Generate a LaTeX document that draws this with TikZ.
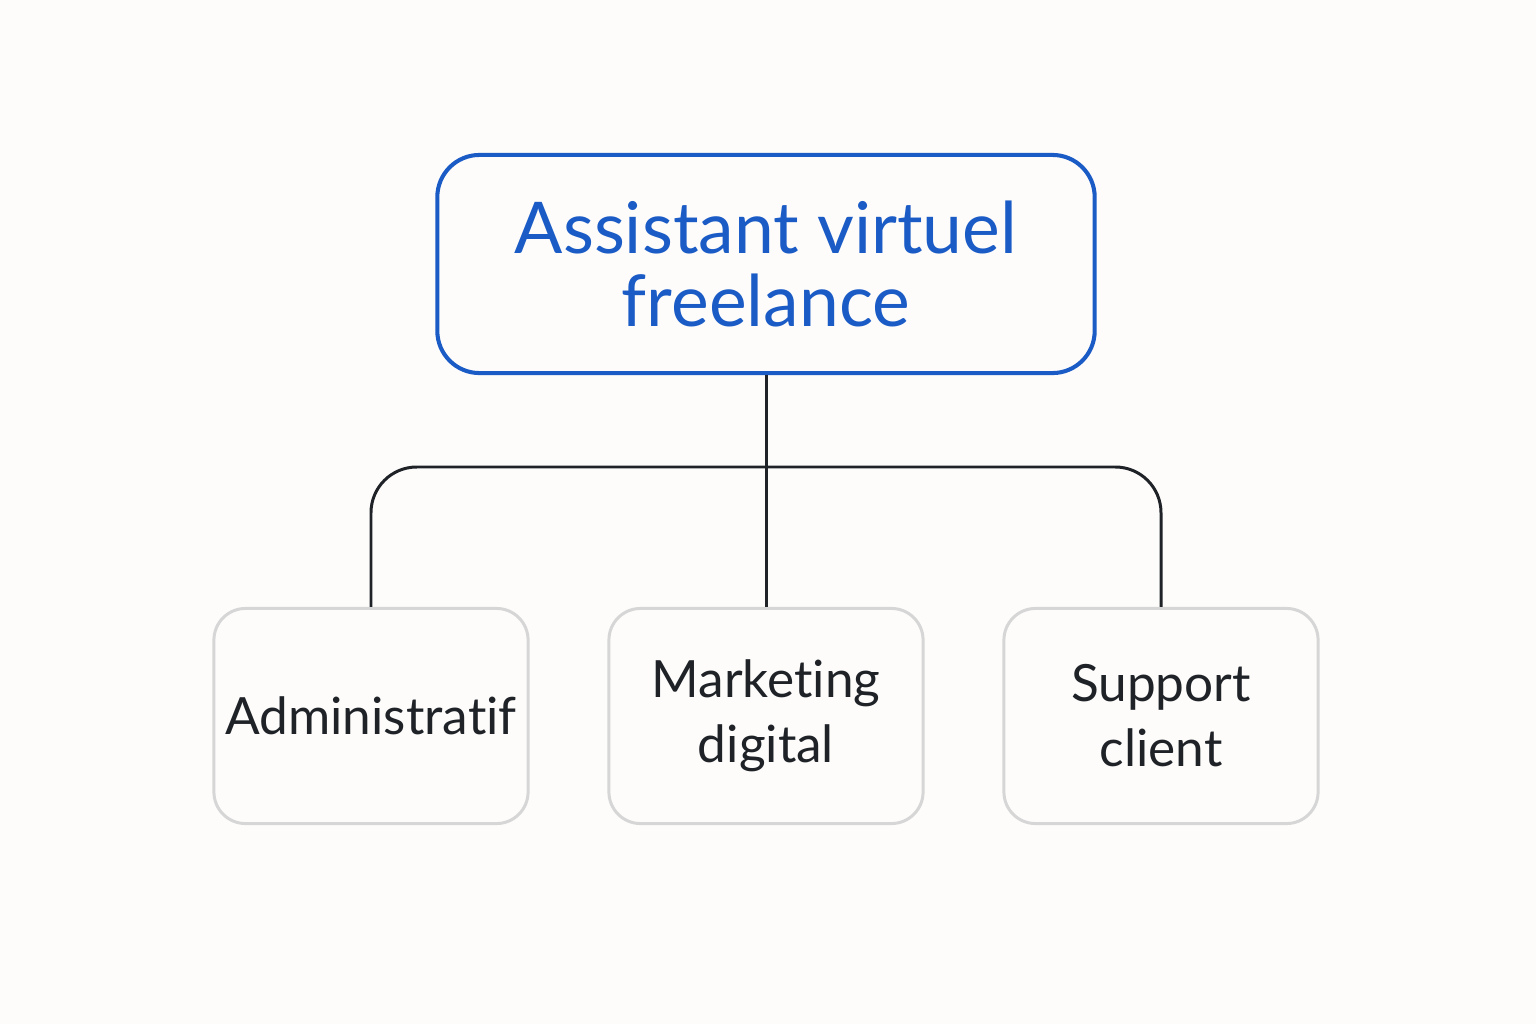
\documentclass[tikz,border=0pt]{standalone}
\usepackage{fontspec}
\setsansfont{Lato}[Ligatures=NoCommon]
\usetikzlibrary{positioning, calc}
\definecolor{FondClair}{HTML}{FDFCFA}
\definecolor{BleuVif}{HTML}{1A5BC6}
\definecolor{GrisBord}{HTML}{D6D6D6}
\definecolor{Encre}{HTML}{1F2328}

\begin{document}
\begin{tikzpicture}[x=0.01cm, y=-0.01cm, font=\sffamily,
    racine/.style={draw=BleuVif, line width=1.15pt, rounded corners=12pt,
        minimum width=6.57cm, minimum height=2.18cm, text=BleuVif, align=center,
        font=\sffamily\fontsize{20.3}{20.8}\selectfont},
    domaine/.style={draw=GrisBord, line width=0.85pt, rounded corners=9pt,
        minimum width=3.14cm, minimum height=2.15cm, text=Encre, align=center,
        inner sep=1pt, font=\sffamily\fontsize{14.6}{18.5}\selectfont},
    lien/.style={draw=Encre, line width=0.85pt}]

% fond
\fill[FondClair] (0,0) rectangle (1536,1024);

% boite principale
\node[racine] (assistant) at (766,264) {Assistant virtuel\\freelance};

% trois domaines
\node[domaine] (admin) at (371,716) {Administratif};
\node[domaine] (marketing) at (766,716) {Marketing\\digital};
\node[domaine] (support) at (1161,716) {Support\\client};

% liaisons
\coordinate (bus) at (766,467);
\draw[lien] (assistant.south) -- (marketing.north);
\draw[lien, rounded corners=13pt] (admin.north) |- (bus) -| (support.north);

\end{tikzpicture}
\end{document}
